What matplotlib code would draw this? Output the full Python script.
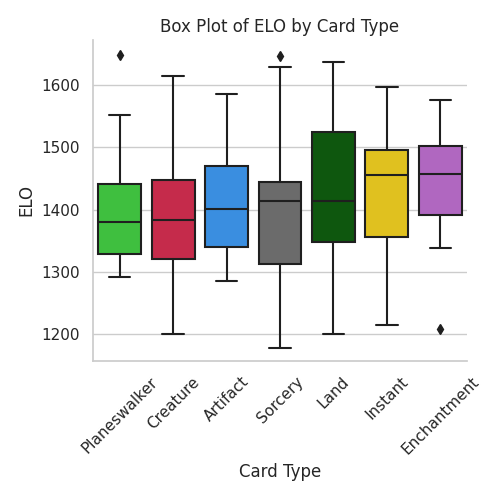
import matplotlib
matplotlib.use('Agg')
import matplotlib.pyplot as plt
import seaborn as sns

# ELO summaries per card type
card_types = ['Planeswalker', 'Creature', 'Artifact', 'Sorcery', 'Land', 'Instant', 'Enchantment']
whisker_low = [1291, 1200, 1286, 1178, 1200, 1214, 1339]
q1 = [1329, 1321, 1340, 1313, 1348, 1356, 1392]
median = [1380, 1384, 1401, 1413, 1414, 1456, 1457]
q3 = [1441, 1447, 1470, 1444, 1525, 1495, 1502]
whisker_high = [1552, 1615, 1586, 1628, 1636, 1597, 1576]
outliers = [[1648], [], [], [1647], [], [], [1208]]

box_colors = ['#3fbf3f', '#c52b4b', '#3a8ee0', '#6b6b6b', '#0e570e', '#e0c11f', '#b067c0']

sns.set_theme(style='whitegrid')

fig = plt.figure(figsize=(5, 5), dpi=100)
ax = fig.add_axes([0.186, 0.278, 0.748, 0.642])

stats = []
for i, name in enumerate(card_types):
    stats.append({
        'label': name,
        'whislo': whisker_low[i],
        'q1': q1[i],
        'med': median[i],
        'q3': q3[i],
        'whishi': whisker_high[i],
        'fliers': outliers[i],
    })

line_col = '#1f1f1f'
bp = ax.bxp(stats, positions=range(len(card_types)), widths=0.8, patch_artist=True,
            boxprops=dict(edgecolor=line_col, linewidth=1.5),
            medianprops=dict(color=line_col, linewidth=1.5),
            whiskerprops=dict(color=line_col, linewidth=1.5),
            capprops=dict(color=line_col, linewidth=1.5),
            flierprops=dict(marker='d', markerfacecolor=line_col, markeredgecolor=line_col,
                            markersize=5))
for patch, c in zip(bp['boxes'], box_colors):
    patch.set_facecolor(c)

ax.set_xlim(-0.5, len(card_types) - 0.5)
ax.set_ylim(1157, 1672)
ax.set_yticks([1200, 1300, 1400, 1500, 1600])
ax.set_xticks(range(len(card_types)))
ax.set_xticklabels(card_types, rotation=45)
ax.grid(axis='x', visible=False)
ax.set_axisbelow(True)
sns.despine(ax=ax)

ax.set_title('Box Plot of ELO by Card Type')
ax.set_xlabel('Card Type')
ax.set_ylabel('ELO')

plt.savefig('out.png', dpi=100)
